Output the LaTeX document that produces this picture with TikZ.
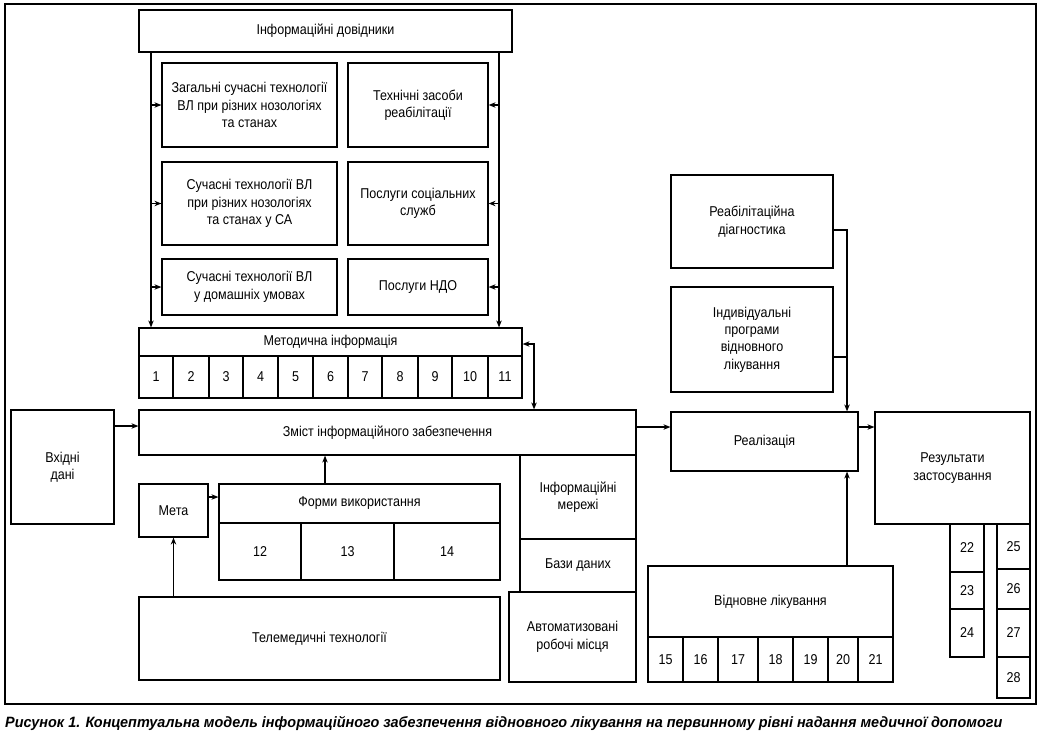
\documentclass[tikz,border=0pt]{standalone}
\usepackage{fontspec}
\setmainfont{Liberation Sans}[FakeStretch=0.88]
\newfontfamily\capfont{Liberation Sans}
\usetikzlibrary{arrows.meta}
\newcommand\bx[6]{\node[box, minimum width={(#4-#2)*1bp}, minimum height={(#5-#3)*1bp}] (#1) at ({(#2+#4)/2},{(#3+#5)/2}) {#6};}
\begin{document}
\begin{tikzpicture}[x=1bp,y=-1bp,
  box/.style={draw, line width=1.2bp, inner sep=1bp, align=center, font=\fontsize{14.3}{17.5}\selectfont},
  arr/.style={-{Stealth[length=7bp,width=5.5bp]}, line width=1.2bp},
  arrtwo/.style={{Stealth[length=7bp,width=5.5bp]}-{Stealth[length=7bp,width=5.5bp]}, line width=1.2bp},
  ln/.style={line width=1.2bp}]
\useasboundingbox (0,0) rectangle (1040,742);
\draw[line width=1.6bp] (5,4) rectangle (1036,704);
% top block
\bx{dov}{139}{10}{512}{52}{Інформаційні довідники}
\bx{a1}{162}{63}{337}{147}{Загальні сучасні технології\\ВЛ при різних нозологіях\\та станах}
\bx{a2}{162}{162}{337}{245}{Сучасні технології ВЛ\\при різних нозологіях\\та станах у СА}
\bx{a3}{162}{259}{337}{315}{Сучасні технології ВЛ\\у домашніх умовах}
\bx{b1}{348}{63}{488}{147}{Технічні засоби\\реабілітації}
\bx{b2}{348}{162}{488}{245}{Послуги соціальних\\служб}
\bx{b3}{348}{259}{488}{315}{Послуги НДО}
\bx{met}{139}{328}{522}{356}{Методична інформація}
\bx{m1}{139}{356}{173}{398}{1}
\bx{m2}{173}{356}{209}{398}{2}
\bx{m3}{209}{356}{243}{398}{3}
\bx{m4}{243}{356}{278}{398}{4}
\bx{m5}{278}{356}{313}{398}{5}
\bx{m6}{313}{356}{348}{398}{6}
\bx{m7}{348}{356}{382}{398}{7}
\bx{m8}{382}{356}{418}{398}{8}
\bx{m9}{418}{356}{452}{398}{9}
\bx{m10}{452}{356}{488}{398}{10}
\bx{m11}{488}{356}{522}{398}{11}
% middle
\bx{zm}{139}{410}{636}{455}{Зміст інформаційного забезпечення}
\bx{vd}{11}{410}{114}{524}{Вхідні\\дані}
\bx{meta}{139}{484}{208}{537}{Мета}
\bx{fh}{219}{484}{500}{523}{Форми використання}
\bx{f12}{219}{523}{301}{580}{12}
\bx{f13}{301}{523}{394}{580}{13}
\bx{f14}{394}{523}{500}{580}{14}
\bx{tm}{139}{597}{500}{680}{Телемедичні технології}
\bx{im}{520}{455}{636}{539}{Інформаційні\\мережі}
\bx{bd}{520}{539}{636}{592}{Бази даних}
\bx{arm}{509}{592}{636}{682}{Автоматизовані\\робочі місця}
% right
\bx{rd}{671}{175}{833}{268}{Реабілітаційна\\діагностика}
\bx{ip}{671}{287}{833}{392}{Індивідуальні\\програми\\відновного\\лікування}
\bx{rl}{671}{412}{858}{471}{Реалізація}
\bx{rz}{875}{412}{1030}{524}{Результати\\застосування}
\bx{vl}{648}{566}{893}{637}{Відновне лікування}
\bx{c15}{648}{637}{683}{682}{15}
\bx{c16}{683}{637}{718}{682}{16}
\bx{c17}{718}{637}{758}{682}{17}
\bx{c18}{758}{637}{793}{682}{18}
\bx{c19}{793}{637}{828}{682}{19}
\bx{c20}{828}{637}{858}{682}{20}
\bx{c21}{858}{637}{893}{682}{21}
\bx{c22}{950}{524}{984}{572}{22}
\bx{c23}{950}{572}{984}{609}{23}
\bx{c24}{950}{609}{984}{657}{24}
\bx{c25}{997}{524}{1030}{569}{25}
\bx{c26}{997}{569}{1030}{609}{26}
\bx{c27}{997}{609}{1030}{657}{27}
\bx{c28}{997}{657}{1030}{698}{28}
% helper coordinates
\coordinate (L) at (151,0);
\coordinate (R) at (499,0);
\coordinate (D) at (534,344);
\coordinate (Y1) at (0,426);
\coordinate (Y2) at (0,497);
\coordinate (X1) at (325,0);
\coordinate (Y3) at (0,427);
\coordinate (X2) at (847,0);
\coordinate (Y4) at (0,230);
\coordinate (Y5) at (0,357);
% connectors
\draw[arr] (dov.south -| L) -- (met.north -| L);
\draw[arr] (dov.south -| R) -- (met.north -| R);
\foreach \n in {a1,a2,a3} \draw[arr] (L |- \n.west) -- (\n.west);
\foreach \n in {b1,b2,b3} \draw[arr] (R |- \n.east) -- (\n.east);
\draw[arrtwo] (met.east |- D) -- (D) -- (zm.north -| D);
\draw[arr] (vd.east |- Y1) -- (zm.west |- Y1);
\draw[arr] (meta.east |- Y2) -- (fh.west |- Y2);
\draw[arr] (fh.north -| X1) -- (zm.south -| X1);
\draw[arr] (tm.north -| meta) -- (meta.south);
\draw[arr] (zm.east |- Y3) -- (rl.west |- Y3);
\draw[arr] (rl.east |- Y3) -- (rz.west |- Y3);
\draw[arr] (rd.east |- Y4) -- (X2 |- Y4) -- (rl.north -| X2);
\draw[ln] (ip.east |- Y5) -- (X2 |- Y5);
\draw[arr] (vl.north -| X2) -- (rl.south -| X2);
% caption
\node[anchor=west, inner sep=0] (cap) at (5,723) {\resizebox{997bp}{\height}{\fontsize{15}{17}\capfont\bfseries\itshape Рисунок 1. Концептуальна модель інформаційного забезпечення відновного лікування на первинному рівні надання медичної допомоги}};
\end{tikzpicture}
\end{document}
